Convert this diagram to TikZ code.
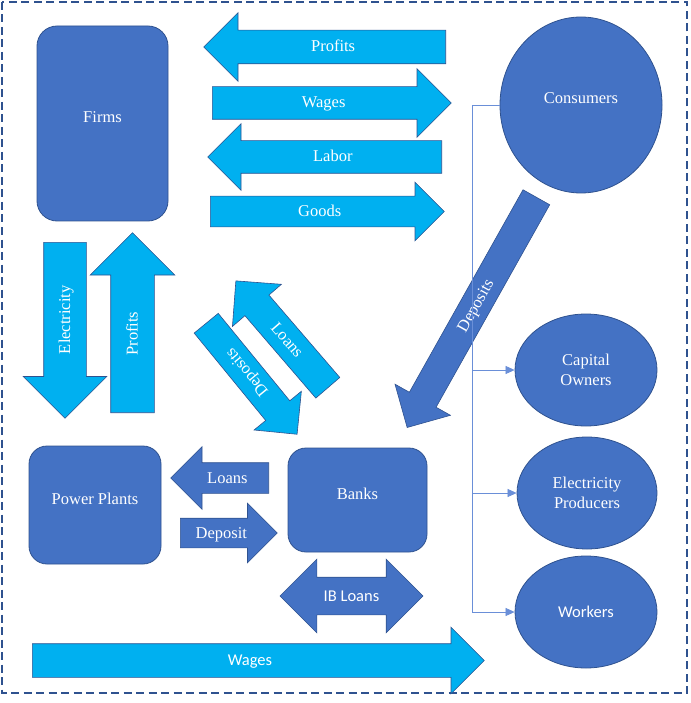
\documentclass[tikz,border=0pt]{standalone}
\usepackage{fontspec}
\setmainfont{Liberation Serif}
\newfontfamily\calibri{Carlito}
\usetikzlibrary{shapes.arrows,shapes.geometric,arrows.meta}

\definecolor{boxblue}{HTML}{4472C4}
\definecolor{edgeblue}{HTML}{2F528F}
\definecolor{flowcyan}{HTML}{00B0F0}
\definecolor{linkblue}{HTML}{6A8FD8}

\begin{document}
\begin{tikzpicture}[x=1pt,y=-1pt,
  every node/.style={text=white,font=\fontsize{16.5}{20}\selectfont},
  agent/.style={draw=edgeblue,line width=0.8pt,fill=boxblue,rounded corners=20pt,text depth=13pt},
  household/.style={ellipse,draw=edgeblue,line width=0.8pt,fill=boxblue,inner sep=0pt,align=center},
  flow/.style={single arrow,draw=edgeblue,line width=0.6pt,fill=flowcyan,inner xsep=0pt,
    inner ysep=0pt,single arrow head indent=0pt,anchor=tail},
  bankflow/.style={flow,fill=boxblue},
  sans/.style={font=\calibri\fontsize{16.5}{20}\selectfont},
  link/.style={draw=linkblue,line width=0.7pt,-{Triangle[length=9pt,width=8pt]}},
  ]
  \useasboundingbox (0,0) rectangle (690,703);
  \draw[edgeblue,line width=1.4pt,dash pattern=on 8pt off 4.5pt] (2,2) rectangle (687,693);

  % agents
  \node[agent,minimum width=131pt,minimum height=195pt] (firms) at (102.5,123.5) {Firms};
  \node[agent,minimum width=132pt,minimum height=118pt,rounded corners=18pt] (plants) at (95,505) {Power Plants};
  \node[agent,minimum width=139pt,minimum height=104pt,rounded corners=18pt] (banks) at (357.5,500) {Banks};
  \node[household,minimum width=162pt,minimum height=176pt,text depth=13pt] (cons) at (581,105) {Consumers};
  \node[household,minimum width=142pt,minimum height=112pt] (cap) at (586,370) {Capital\\Owners};
  \node[household,minimum width=140pt,minimum height=112pt] (elec) at (587,493) {Electricity\\Producers};
  \node[household,minimum width=142pt,minimum height=112pt,sans] (workers) at (586,612) {Workers};

  % flows between firms and consumers
  \node[flow,shape border rotate=180,minimum height=242pt,text height=21.5pt,text depth=11.5pt,
    single arrow head extend=17.5pt] (profitsTop) at (446,47) {Profits};
  \node[flow,minimum height=239pt,text height=21pt,text depth=11pt,
    single arrow head extend=18pt] (wagesTop) at (212,103) {Wages};
  \node[flow,shape border rotate=180,minimum height=234pt,text height=21pt,text depth=11pt,
    single arrow head extend=17pt] (labor) at (442,157) {Labor};
  \node[flow,minimum height=234pt,text height=20pt,text depth=10pt,
    single arrow head extend=14pt] (goods) at (210,211.5) {Goods};

  % flows between firms and power plants
  \node[flow,rotate=90,shape border rotate=180,minimum height=176pt,text height=26pt,text depth=16pt,
    single arrow head extend=20.5pt] (electricity) at (65,242) {Electricity};
  \node[flow,rotate=90,minimum height=180pt,text height=26.5pt,text depth=16.5pt,
    single arrow head extend=20.5pt] (profitsUp) at (132.5,413) {Profits};

  % flows between firms and banks
  \node[flow,rotate=-49.3,shape border rotate=180,minimum height=141pt,text height=20.5pt,text depth=10.5pt,
    single arrow head extend=16.5pt] (loansUp) at (328,388) {Loans};
  \node[flow,rotate=129.3,shape border rotate=180,minimum height=143.5pt,text height=20.25pt,text depth=10.25pt,
    single arrow head extend=15pt] (depositsDown) at (206,323) {Deposits};

  % flows of the banks
  \node[bankflow,rotate=60.7,shape border rotate=180,minimum height=264pt,text height=20pt,text depth=10pt,
    single arrow head extend=16.5pt] (depositsCons) at (536.5,197) {Deposits};
  \node[bankflow,shape border rotate=180,minimum height=98pt,text height=20pt,text depth=10pt,
    single arrow head extend=16pt] (loansPlants) at (269,478) {Loans};
  \node[bankflow,minimum height=97pt,text height=19.5pt,text depth=9.5pt,
    single arrow head extend=15pt] (depositPlants) at (180,533) {Deposit};
  \node[double arrow,draw=edgeblue,line width=0.6pt,fill=boxblue,inner xsep=0pt,inner ysep=0pt,
    double arrow head indent=0pt,minimum height=143pt,text height=23.5pt,text depth=13.5pt,
    double arrow head extend=18pt,sans] (ibLoans) at (351.5,596) {IB Loans};

  % wages to the workers
  \node[flow,minimum height=452pt,text height=21.5pt,text depth=11.5pt,
    single arrow head extend=16.5pt,sans] (wagesBottom) at (32,660.5) {Wages};

  % consumers split into groups
  \coordinate (bus) at (472,0);
  \draw[link] (cons.west) -- (cons.west -| bus) |- (workers.west);
  \draw[link] (bus |- cap.west) -- (cap.west);
  \draw[link] (bus |- elec.west) -- (elec.west);
\end{tikzpicture}
\end{document}
